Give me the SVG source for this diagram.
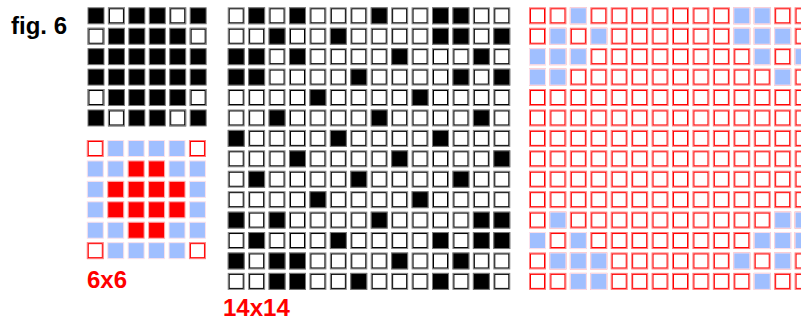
<svg xmlns="http://www.w3.org/2000/svg" width="801" height="321" viewBox="0 0 801 321">
<style>
.lbl{font-family:"Liberation Sans",Arial,sans-serif;font-weight:bold;font-size:24px}
</style>
<defs>
<g id="bw"><rect x="0.5" y="0.5" width="16" height="16" fill="#fff" stroke="#888"/><rect x="1.5" y="1.5" width="14" height="14" fill="none" stroke="#000"/></g>
<g id="bb"><rect x="0.5" y="0.5" width="16" height="16" fill="#000" stroke="#777"/></g>
<g id="rw"><rect x="0.5" y="0.5" width="16" height="16" fill="#fff" stroke="#ff7a7a"/><rect x="1.5" y="1.5" width="14" height="14" fill="none" stroke="#f00"/></g>
<g id="bl"><rect x="0.5" y="0.5" width="16" height="16" fill="#a0bfff" stroke="#fbe0ea"/></g>
<g id="rr"><rect x="0.5" y="0.5" width="16" height="16" fill="#f00" stroke="#ffb0b0"/></g>
<g id="rowB6"><use href="#bb"/><use href="#bb" x="20.43"/><use href="#bb" x="40.86"/><use href="#bb" x="61.29"/><use href="#bb" x="81.72"/><use href="#bb" x="102.15"/></g>
<g id="rowL6"><use href="#bl"/><use href="#bl" x="20.43"/><use href="#bl" x="40.86"/><use href="#bl" x="61.29"/><use href="#bl" x="81.72"/><use href="#bl" x="102.15"/></g>
<g id="rowW14"><use href="#bw"/><use href="#bw" x="20.43"/><use href="#bw" x="40.86"/><use href="#bw" x="61.29"/><use href="#bw" x="81.72"/><use href="#bw" x="102.15"/><use href="#bw" x="122.58"/><use href="#bw" x="143.01"/><use href="#bw" x="163.44"/><use href="#bw" x="183.87"/><use href="#bw" x="204.3"/><use href="#bw" x="224.73"/><use href="#bw" x="245.16"/><use href="#bw" x="265.59"/></g>
<g id="rowR14"><use href="#rw"/><use href="#rw" x="20.43"/><use href="#rw" x="40.86"/><use href="#rw" x="61.29"/><use href="#rw" x="81.72"/><use href="#rw" x="102.15"/><use href="#rw" x="122.58"/><use href="#rw" x="143.01"/><use href="#rw" x="163.44"/><use href="#rw" x="183.87"/><use href="#rw" x="204.3"/><use href="#rw" x="224.73"/><use href="#rw" x="245.16"/><use href="#rw" x="265.59"/></g>
</defs>
<rect width="801" height="321" fill="#fff"/>

<g id="fig-label"><text class="lbl" x="11" y="34" fill="#000">fig. 6</text></g>

<g id="grid-6x6-top" transform="translate(87.5,7.3)">
<use href="#rowB6"/><use href="#rowB6" y="20.43"/><use href="#rowB6" y="40.86"/><use href="#rowB6" y="61.29"/><use href="#rowB6" y="81.72"/><use href="#rowB6" y="102.15"/>
<use href="#bw" x="20.43" y="0"/><use href="#bw" x="81.72" y="0"/>
<use href="#bw" x="0" y="20.43"/><use href="#bw" x="102.15" y="20.43"/>
<use href="#bw" x="0" y="81.72"/><use href="#bw" x="102.15" y="81.72"/>
<use href="#bw" x="20.43" y="102.15"/><use href="#bw" x="81.72" y="102.15"/>
</g>

<g id="grid-6x6-bottom" transform="translate(86.8,140)">
<use href="#rowL6"/><use href="#rowL6" y="20.43"/><use href="#rowL6" y="40.86"/><use href="#rowL6" y="61.29"/><use href="#rowL6" y="81.72"/><use href="#rowL6" y="102.15"/>
<use href="#rw" x="0" y="0"/><use href="#rw" x="102.15" y="0"/><use href="#rw" x="0" y="102.15"/><use href="#rw" x="102.15" y="102.15"/>
<use href="#rr" x="40.86" y="20.43"/><use href="#rr" x="61.29" y="20.43"/>
<use href="#rr" x="20.43" y="40.86"/><use href="#rr" x="40.86" y="40.86"/><use href="#rr" x="61.29" y="40.86"/><use href="#rr" x="81.72" y="40.86"/>
<use href="#rr" x="20.43" y="61.29"/><use href="#rr" x="40.86" y="61.29"/><use href="#rr" x="61.29" y="61.29"/><use href="#rr" x="81.72" y="61.29"/>
<use href="#rr" x="40.86" y="81.72"/><use href="#rr" x="61.29" y="81.72"/>
</g>

<g id="label-6x6"><text class="lbl" x="87" y="288" fill="#f00">6x6</text></g>

<g id="grid-14x14" transform="translate(227.7,7.3)">
<use href="#rowW14"/><use href="#rowW14" y="20.43"/><use href="#rowW14" y="40.86"/><use href="#rowW14" y="61.29"/><use href="#rowW14" y="81.72"/><use href="#rowW14" y="102.15"/><use href="#rowW14" y="122.58"/><use href="#rowW14" y="143.01"/><use href="#rowW14" y="163.44"/><use href="#rowW14" y="183.87"/><use href="#rowW14" y="204.3"/><use href="#rowW14" y="224.73"/><use href="#rowW14" y="245.16"/><use href="#rowW14" y="265.59"/>
<use href="#bb" x="20.43" y="0"/><use href="#bb" x="61.29" y="0"/><use href="#bb" x="143.01" y="0"/><use href="#bb" x="204.3" y="0"/><use href="#bb" x="224.73" y="0"/>
<use href="#bb" x="40.86" y="20.43"/><use href="#bb" x="102.15" y="20.43"/><use href="#bb" x="204.3" y="20.43"/><use href="#bb" x="224.73" y="20.43"/><use href="#bb" x="265.59" y="20.43"/>
<use href="#bb" x="0" y="40.86"/><use href="#bb" x="20.43" y="40.86"/><use href="#bb" x="61.29" y="40.86"/><use href="#bb" x="163.44" y="40.86"/><use href="#bb" x="245.16" y="40.86"/>
<use href="#bb" x="0" y="61.29"/><use href="#bb" x="20.43" y="61.29"/><use href="#bb" x="122.58" y="61.29"/><use href="#bb" x="224.73" y="61.29"/><use href="#bb" x="265.59" y="61.29"/>
<use href="#bb" x="81.72" y="81.72"/><use href="#bb" x="183.87" y="81.72"/>
<use href="#bb" x="40.86" y="102.15"/><use href="#bb" x="143.01" y="102.15"/><use href="#bb" x="245.16" y="102.15"/>
<use href="#bb" x="0" y="122.58"/><use href="#bb" x="102.15" y="122.58"/><use href="#bb" x="204.3" y="122.58"/>
<use href="#bb" x="61.29" y="143.01"/><use href="#bb" x="163.44" y="143.01"/><use href="#bb" x="265.59" y="143.01"/>
<use href="#bb" x="20.43" y="163.44"/><use href="#bb" x="122.58" y="163.44"/><use href="#bb" x="224.73" y="163.44"/>
<use href="#bb" x="81.72" y="183.87"/><use href="#bb" x="183.87" y="183.87"/>
<use href="#bb" x="0" y="204.3"/><use href="#bb" x="40.86" y="204.3"/><use href="#bb" x="143.01" y="204.3"/><use href="#bb" x="245.16" y="204.3"/><use href="#bb" x="265.59" y="204.3"/>
<use href="#bb" x="20.43" y="224.73"/><use href="#bb" x="102.15" y="224.73"/><use href="#bb" x="204.3" y="224.73"/><use href="#bb" x="245.16" y="224.73"/><use href="#bb" x="265.59" y="224.73"/>
<use href="#bb" x="0" y="245.16"/><use href="#bb" x="40.86" y="245.16"/><use href="#bb" x="61.29" y="245.16"/><use href="#bb" x="163.44" y="245.16"/><use href="#bb" x="224.73" y="245.16"/>
<use href="#bb" x="40.86" y="265.59"/><use href="#bb" x="61.29" y="265.59"/><use href="#bb" x="122.58" y="265.59"/><use href="#bb" x="204.3" y="265.59"/><use href="#bb" x="245.16" y="265.59"/>
</g>

<g id="label-14x14"><text class="lbl" x="223" y="316" fill="#f00">14x14</text></g>

<g id="grid-mask" transform="translate(529,7.3)">
<use href="#rowR14"/><use href="#rowR14" y="20.43"/><use href="#rowR14" y="40.86"/><use href="#rowR14" y="61.29"/><use href="#rowR14" y="81.72"/><use href="#rowR14" y="102.15"/><use href="#rowR14" y="122.58"/><use href="#rowR14" y="143.01"/><use href="#rowR14" y="163.44"/><use href="#rowR14" y="183.87"/><use href="#rowR14" y="204.3"/><use href="#rowR14" y="224.73"/><use href="#rowR14" y="245.16"/><use href="#rowR14" y="265.59"/>
<use href="#bl" x="40.86" y="0"/><use href="#bl" x="20.43" y="20.43"/><use href="#bl" x="61.29" y="20.43"/><use href="#bl" x="0" y="40.86"/><use href="#bl" x="20.43" y="40.86"/><use href="#bl" x="40.86" y="40.86"/><use href="#bl" x="0" y="61.29"/><use href="#bl" x="20.43" y="61.29"/>
<use href="#bl" x="204.3" y="0"/><use href="#bl" x="224.73" y="0"/><use href="#bl" x="204.3" y="20.43"/><use href="#bl" x="224.73" y="20.43"/><use href="#bl" x="245.16" y="20.43"/><use href="#bl" x="224.73" y="40.86"/><use href="#bl" x="265.59" y="40.86"/><use href="#bl" x="245.16" y="61.29"/>
<use href="#bl" x="20.43" y="204.3"/><use href="#bl" x="0" y="224.73"/><use href="#bl" x="40.86" y="224.73"/><use href="#bl" x="20.43" y="245.16"/><use href="#bl" x="40.86" y="245.16"/><use href="#bl" x="61.29" y="245.16"/><use href="#bl" x="40.86" y="265.59"/><use href="#bl" x="61.29" y="265.59"/>
<use href="#bl" x="245.16" y="204.3"/><use href="#bl" x="265.59" y="204.3"/><use href="#bl" x="224.73" y="224.73"/><use href="#bl" x="245.16" y="224.73"/><use href="#bl" x="265.59" y="224.73"/><use href="#bl" x="204.3" y="245.16"/><use href="#bl" x="245.16" y="245.16"/><use href="#bl" x="224.73" y="265.59"/>
</g>
</svg>
